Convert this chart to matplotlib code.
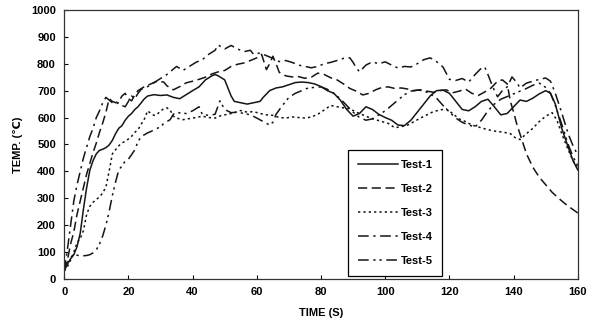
import matplotlib
matplotlib.use("Agg")
import matplotlib.pyplot as plt

plt.rcParams['font.family'] = ['Liberation Sans', 'DejaVu Sans']

# Test-1 (solid)
t1 = [0, 1, 2, 3, 4, 5, 6, 7, 8, 9, 10, 11, 12, 13, 14, 15, 16, 17, 18, 19, 20, 21, 22, 23, 24, 25, 26, 28, 30,
      32, 34, 36, 38, 40, 42, 44, 46, 47, 48, 50, 51, 52, 53, 55, 57, 59, 61, 62, 64, 66, 68, 70, 72, 74, 76, 78,
      80, 82, 84, 86, 88, 90, 92, 94, 96, 98, 100, 102, 104, 106, 108, 110, 112, 114, 116, 118, 120, 122, 124,
      126, 128, 130, 132, 134, 136, 138, 140, 142, 144, 146, 148, 150, 151.5, 153, 155, 157, 158.5, 160]
y1 = [30, 55, 75, 90, 120, 170, 260, 340, 405, 440, 465, 478, 482, 488, 498, 515, 540, 560, 570, 590, 605, 615,
      630, 640, 655, 670, 680, 685, 682, 684, 675, 670, 685, 700, 714, 740, 755, 760, 755, 740, 710, 680, 660, 655,
      650, 655, 660, 675, 700, 710, 714, 722, 730, 732, 730, 725, 715, 700, 690, 665, 630, 605, 615, 640, 630, 612,
      600, 590, 572, 570, 590, 620, 650, 680, 700, 702, 690, 660, 630, 625, 640, 660, 668, 640, 610, 615, 640, 665,
      660, 672, 688, 700, 690, 650, 560, 490, 440, 405]

# Test-2 (dashed)
t2 = [0, 1, 2, 3, 4, 5, 6, 7, 8, 9, 10, 11, 12, 13, 14, 15, 16, 17, 18, 19, 20, 21, 22, 23, 25, 27, 29, 31, 32,
      34, 36, 38, 40, 42, 44, 46, 48, 50, 52, 54, 56, 58, 60, 61.5, 63, 64, 65, 66, 67, 69, 71, 73, 75, 77, 79,
      81, 83, 85, 87, 89, 91, 93, 95, 97, 99, 101, 103, 105, 107, 109, 111, 113, 115, 117, 119, 121, 123, 125,
      127, 129, 131, 133, 135, 136.5, 138, 139, 140, 141, 142.5, 144, 146, 148, 150, 152, 154, 156, 158, 160]
y2 = [30, 70, 130, 175, 240, 290, 340, 390, 430, 470, 505, 545, 580, 620, 670, 660, 655, 660, 680, 690, 670, 662,
      685, 700, 715, 725, 735, 732, 718, 703, 715, 729, 735, 742, 750, 762, 770, 775, 790, 798, 803, 812, 822, 835,
      778, 800, 828, 800, 768, 755, 751, 752, 746, 750, 765, 760, 748, 740, 725, 708, 698, 684, 690, 703, 712, 714,
      708, 710, 706, 700, 703, 698, 694, 700, 703, 692, 698, 706, 690, 682, 695, 710, 735, 740, 725, 660, 620, 575,
      520, 465, 415, 378, 350, 322, 300, 280, 262, 245]

# Test-3 (dotted)
t3 = [0, 1, 2, 3, 4, 5, 6, 7, 8, 9, 10, 11, 12, 13, 14, 15, 16, 17, 18, 19, 20, 21, 22, 23, 24, 25, 26, 27, 28,
      29, 30, 31, 32, 33, 34, 35, 37, 39, 41, 43, 45, 47, 49, 51, 53, 55, 57, 59, 61, 63, 65, 67, 69, 71, 73, 75,
      77, 79, 81, 83, 85, 87, 89, 91, 93, 95, 97, 99, 101, 103, 105, 107, 109, 111, 113, 115, 117, 119, 121, 123,
      125, 127, 129, 131, 133, 135, 137, 139, 140.5, 142, 144, 146, 148, 150, 152, 153.5, 155, 157, 158.5, 160]
y3 = [30, 45, 70, 100, 134, 150, 180, 240, 270, 285, 295, 305, 320, 342, 400, 465, 480, 495, 505, 512, 520, 530,
      545, 555, 575, 595, 625, 615, 608, 612, 625, 632, 636, 628, 605, 598, 592, 596, 600, 605, 600, 598, 608, 612,
      618, 626, 620, 622, 615, 610, 608, 600, 598, 602, 600, 598, 602, 612, 628, 645, 640, 636, 632, 620, 610, 600,
      592, 585, 578, 562, 566, 572, 585, 598, 610, 622, 628, 632, 615, 595, 585, 572, 565, 558, 552, 548, 545, 540,
      525, 518, 540, 560, 585, 605, 618, 590, 540, 480, 440, 410]

# Test-4 (dash-dot)
t4 = [0, 1, 2, 3, 4, 5, 6, 7, 8, 9, 10, 11, 12, 13, 14, 15, 16, 17, 18, 19, 20, 21, 22, 23, 24, 26, 28, 30, 32,
      34, 35, 37, 39, 41, 43, 45, 47, 48, 49, 50, 52, 54, 56, 58, 59, 61, 63, 65, 67, 69, 71, 73, 75, 77, 79, 81,
      83, 85, 87, 89, 90, 91, 92, 94, 96, 98, 100, 102, 104, 106, 108, 110, 112, 114, 116, 118, 120, 122, 124,
      126, 128, 130, 131, 132, 133.5, 135, 136.5, 138, 139.5, 141, 142, 144, 146, 148, 150, 151.5, 153, 155, 157,
      158.5, 160]
y4 = [30, 110, 200, 290, 350, 400, 450, 490, 530, 560, 600, 625, 655, 675, 665, 655, 650, 655, 645, 640, 660, 680,
      670, 690, 705, 715, 730, 745, 760, 780, 790, 775, 790, 805, 815, 835, 850, 870, 862, 855, 868, 855, 845, 850,
      835, 840, 830, 820, 808, 812, 805, 795, 790, 785, 790, 800, 805, 812, 820, 822, 805, 785, 770, 795, 807, 800,
      807, 795, 784, 790, 788, 800, 815, 822, 808, 788, 742, 738, 745, 732, 760, 784, 788, 760, 714, 677, 700, 714,
      751, 730, 710, 728, 735, 742, 747, 735, 690, 617, 540, 495, 460]

# Test-5 (dash-dot-dot)
t5 = [0, 1, 2, 3, 4, 5, 6, 7, 8, 9, 10, 11, 12, 13, 14, 15, 16, 17, 18, 19, 20, 21, 22, 23, 24, 25, 26, 27, 28,
      29, 30, 31, 32, 33, 34, 35, 36, 38, 40, 42, 43, 45, 47, 48.5, 50, 52, 54, 56, 58, 60, 62, 64, 65, 66, 68, 70,
      72, 74, 76, 78, 80, 82, 84, 86, 88, 90, 92, 94, 96, 98, 100, 102, 104, 106, 108, 110, 112, 114, 116, 118,
      120, 122, 124, 126, 128, 130, 132, 134, 136, 138, 140, 142, 144, 146, 148, 150, 151.5, 153, 155, 157, 158.5,
      160]
y5 = [30, 60, 80, 88, 88, 86, 86, 87, 90, 97, 108, 130, 160, 200, 250, 310, 360, 405, 420, 438, 445, 462, 480,
      510, 530, 536, 543, 548, 554, 560, 565, 578, 585, 592, 612, 621, 617, 615, 625, 640, 612, 608, 612, 662, 630,
      618, 620, 615, 610, 598, 585, 572, 582, 612, 645, 675, 690, 700, 710, 712, 714, 705, 690, 670, 645, 620, 600,
      590, 595, 610, 625, 645, 665, 685, 698, 702, 700, 688, 672, 645, 620, 598, 582, 572, 565, 590, 625, 650, 668,
      678, 688, 698, 708, 720, 728, 712, 690, 645, 575, 500, 455, 420]

labels = ['Test-1', 'Test-2', 'Test-3', 'Test-4', 'Test-5']
dashes = [(None, None), (0, (6, 3)), (0, (1.5, 2)), (0, (7, 3, 1.5, 3)), (0, (7, 3, 1.5, 2.5, 1.5, 3))]

fig = plt.figure(figsize=(6, 3.32), dpi=100)
ax = fig.add_axes([0.107, 0.16, 0.856, 0.81])

series = [(t1, y1), (t2, y2), (t3, y3), (t4, y4), (t5, y5)]
for (t, y), lab, ls in zip(series, labels, dashes):
    if ls[0] is None:
        ax.plot(t, y, color='#151515', lw=1.1, label=lab)
    else:
        ax.plot(t, y, color='#151515', lw=1.1, linestyle=ls, label=lab)

ax.set_xlim(0, 160)
ax.set_ylim(0, 1000)
ax.set_xticks(range(0, 161, 20))
ax.set_yticks(range(0, 1001, 100))
ax.tick_params(direction='in', length=3, width=0.8, labelsize=8, pad=6)
for lbl in ax.get_xticklabels() + ax.get_yticklabels():
    lbl.set_fontweight('bold')
for s in ax.spines.values():
    s.set_linewidth(0.9)
    s.set_color('#333333')

ax.set_xlabel('TIME (S)', fontsize=8, fontweight='bold', labelpad=8)
ax.set_ylabel('TEMP. (\u2103)', fontsize=8, fontweight='bold', labelpad=6)

leg = ax.legend(loc='lower left', bbox_to_anchor=(0.553, 0.012), frameon=True, fancybox=False,
                edgecolor='black', framealpha=1, fontsize=8, handlelength=3.6, handletextpad=0.2,
                labelspacing=1.25, borderpad=0.9, borderaxespad=0)
leg.get_frame().set_linewidth(0.9)
for txt in leg.get_texts():
    txt.set_fontweight('bold')

fig.savefig('out.png', dpi=100)
